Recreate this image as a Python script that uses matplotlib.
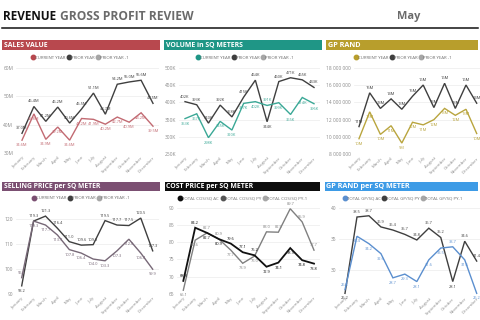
import matplotlib
matplotlib.use("Agg")
import matplotlib.pyplot as plt
from matplotlib.patches import Rectangle
from matplotlib.lines import Line2D

plt.rcParams['font.family'] = ['Open Sans', 'DejaVu Sans']

# ---------------- data ----------------
months = ["January", "February", "March", "April", "May", "June", "July",
          "August", "September", "October", "November", "December"]

sales_cy = [34.6, 43.8, 34.9, 39.2, 34.6, 42.2, 41.9, 40.2, 42.7, 40.9, 44.2, 39.5]
sales_py = [37.0, 46.4, 41.2, 46.2, 40.6, 45.5, 51.1, 43.7, 54.2, 55.0, 55.6, 47.5]

volume_cy = [353, 367, 298, 345, 320, 397, 402, 391, 399, 365, 414, 396]
volume_py = [402, 393, 340, 392, 358, 415, 464, 344, 460, 471, 465, 443]

gp_cy = [9.8, 12.9, 10.3, 11.3, 9.3, 11.7, 11.4, 12.0, 13.3, 12.5, 13.2, 10.4]
gp_py = [11.2, 15.1, 13.3, 14.4, 13.2, 14.7, 16.0, 13.4, 16.2, 13.3, 16.0, 13.9]

sp_cy = [96.5, 119.3, 117.7, 113.7, 107.8, 106.4, 104.0, 103.3, 107.3, 112.0, 106.4, 99.9]
sp_py = [93.2, 119.3, 121.3, 116.4, 111.0, 109.6, 109.8, 119.5, 117.7, 117.5, 120.5, 107.3]

cos_ac = [68.8, 84.2, 82.7, 80.9, 79.6, 77.1, 76.2, 72.9, 74.1, 78.3, 74.8, 73.8]
cos_py = [66.1, 80.6, 82.7, 80.9, 77.7, 73.9, 76.0, 83.0, 82.9, 89.7, 85.9, 77.7]

gpsq_ac = [26.8, 35.4, 34.2, 32.6, 28.7, 29.3, 28.1, 31.6, 33.5, 33.7, 31.6, 26.2]
gpsq_py = [26.2, 38.5, 38.7, 36.9, 36.4, 35.7, 34.8, 36.7, 35.2, 28.1, 34.6, 31.4]

legend_std = ["CURRENT YEAR", "PRIOR YEAR", "PRIOR YEAR -1"]
legend_cos = ["TOTAL COS/SQ AC", "TOTAL COS/SQ PY", "TOTAL COS/SQ PY-1"]
legend_gpsq = ["TOTAL GP/SQ AC", "TOTAL GP/SQ PY", "TOTAL GP/SQ PY-1"]

# ---------------- figure ----------------
W, H = 480, 320
fig = plt.figure(figsize=(4.8, 3.2), dpi=100)
fig.patch.set_facecolor('white')
renderer = fig.canvas.get_renderer()


def fx(px):
    return px / W


def fy(py):
    return 1 - py / H


def fit(t, target):
    w = t.get_window_extent(renderer).width
    if w > 0:
        t.set_fontsize(t.get_fontsize() * target / w)


DARK = '#3f3f3f'
LIGHT = '#a6a6a6'
TICKC = '#8a8a8a'


def make_ax(x_jan, x_dec, y_lo, y_hi, py_lo, py_hi, yticks, yfmt, pad_r=0.5):
    unit = (x_dec - x_jan) / 11
    left = x_jan - 0.5 * unit
    right = x_dec + pad_r * unit
    ax = fig.add_axes([fx(left), fy(py_lo), (right - left) / W, (py_lo - py_hi) / H])
    ax.set_facecolor('none')
    ax.set_xlim(-0.5, 11 + pad_r)
    ax.set_ylim(y_lo, y_hi)
    for s in ax.spines.values():
        s.set_visible(False)
    ax.set_yticks(yticks)
    ax.set_yticklabels([yfmt(t) for t in yticks])
    ax.set_xticks(range(12))
    ax.set_xticklabels(months, rotation=45, ha='right', rotation_mode='anchor',
                       fontsize=3.2, color=TICKC)
    ax.tick_params(axis='both', length=0, pad=1.5)
    ax.tick_params(axis='y', labelsize=3.5, labelcolor=TICKC, pad=2)
    ax.grid(axis='y', color='#ebebeb', linewidth=0.5)
    ax.set_axisbelow(True)
    return ax


def plot_pair(ax, a_vals, a_color, a_lw, b_vals, b_color, b_lw, fmt):
    """Plot two series; at each month the higher value's label goes above,
    the lower one's below."""
    x = list(range(len(a_vals)))
    ax.plot(x, a_vals, color=a_color, linewidth=a_lw, clip_on=False,
            solid_joinstyle='miter')
    ax.plot(x, b_vals, color=b_color, linewidth=b_lw, clip_on=False,
            solid_joinstyle='miter')
    for i in x:
        a, b = a_vals[i], b_vals[i]
        for v, c, above in ((a, a_color, a >= b), (b, b_color, b > a)):
            ax.annotate(fmt(v), (i, v), xytext=(0, 2.2 if above else -2.2),
                        textcoords='offset points', ha='center',
                        va='bottom' if above else 'top', fontsize=2.9,
                        color=c, annotation_clip=False)


def header(x0, x1, y0, y1, color, text, text_w):
    fig.add_artist(Rectangle((fx(x0), fy(y1)), (x1 - x0) / W, (y1 - y0) / H,
                             transform=fig.transFigure, color=color, linewidth=0))
    t = fig.text(fx(x0 + 1.5), fy((y0 + y1) / 2 + 0.3), text, color='white',
                 fontsize=5.6, fontweight='bold', va='center', ha='left')
    fit(t, text_w)


def legend(cx, cy, colors, labels):
    handles = [Line2D([], [], marker='o', linestyle='', color=c, markersize=3.2)
               for c in colors]
    fig.legend(handles, labels, loc='center', bbox_to_anchor=(fx(cx), fy(cy)),
               ncol=3, frameon=False, fontsize=3.2, handlelength=0.6,
               handletextpad=0.15, columnspacing=0.5, borderaxespad=0,
               labelcolor='#707070')


# ---------------- title ----------------
t1 = fig.text(fx(3), fy(16.5), "REVENUE", fontsize=8, fontweight='bold',
              color='#111111', va='center', ha='left')
fit(t1, 54)
t2 = fig.text(fx(60), fy(16.5), "GROSS PROFIT REVIEW", fontsize=8, fontweight='bold',
              color='#6b6b6b', va='center', ha='left')
fit(t2, 133)
t3 = fig.text(fx(397), fy(16.5), "May", fontsize=7.5, fontweight='bold',
              color='#6b6b6b', va='center', ha='left')
fit(t3, 23)
fig.add_artist(Line2D([fx(2), fx(478)], [fy(27.7), fy(27.7)], color='#111111',
                      linewidth=1.1, transform=fig.transFigure))

# ---------------- panel 1: sales value ----------------
RED_H = '#b8484e'
RED_L = '#c26a72'
header(2, 160, 40, 49.5, RED_H, "SALES VALUE", 44)
legend(80, 58, [RED_H, DARK, LIGHT], legend_std)
ax1 = make_ax(22, 153, 30, 60, 153.3, 67.7, [30, 40, 50, 60], lambda t: f"{t}M")
plot_pair(ax1, sales_py, DARK, 1.0, sales_cy, RED_L, 1.0, lambda v: f"{v:.1f}M")

# ---------------- panel 2: volume ----------------
TEAL_H = '#1f9686'
TEAL_L = '#3aa896'
header(164, 322, 40, 49.5, TEAL_H, "VOLUME in SQ METERS", 77)
legend(245, 58, [TEAL_H, DARK, LIGHT], legend_std)
ax2 = make_ax(185, 314, 250, 500, 154.3, 67.7, [250, 300, 350, 400, 450, 500],
              lambda t: f"{t}K")
plot_pair(ax2, volume_py, DARK, 1.0, volume_cy, TEAL_L, 1.0, lambda v: f"{v:.0f}K")

# ---------------- panel 3: gp rand ----------------
GOLD_H = '#b89e2c'
GOLD_L = '#b9a53e'
header(326, 478, 40, 49.5, GOLD_H, "GP RAND", 33)
legend(403, 58, [GOLD_H, DARK, LIGHT], legend_std)
ax3 = make_ax(359, 476.7, 8, 18, 154.3, 67.7, [8, 10, 12, 14, 16, 18],
              lambda t: f"{t*1000000:,.0f}".replace(",", " "), pad_r=0.3)
plot_pair(ax3, gp_py, DARK, 1.0, gp_cy, GOLD_L, 1.0, lambda v: f"{v:.0f}M")

# ---------------- panel 4: selling price ----------------
PURP_H = '#7b4f72'
PURP_L = '#776877'
header(2, 160, 182, 190.5, PURP_H, "SELLING PRICE per SQ METER", 97)
legend(81, 198, [PURP_H, DARK, LIGHT], legend_std)
ax4 = make_ax(21.7, 152.7, 90, 124, 293.8, 209.4, [90, 100, 110, 120],
              lambda t: f"{t}")
plot_pair(ax4, sp_py, DARK, 1.0, sp_cy, PURP_L, 1.0, lambda v: f"{v:.1f}")

# ---------------- panel 5: cost price ----------------
BLK_H = '#0d0d0d'
GRAY_L = '#808080'
header(165, 320, 182, 190.5, BLK_H, "COST PRICE per SQ METER", 88)
legend(243, 198, [BLK_H, '#555555', LIGHT], legend_cos)
ax5 = make_ax(183.3, 314, 65, 90, 294, 207.7, [65, 70, 75, 80, 85, 90],
              lambda t: f"{t}")
plot_pair(ax5, cos_py, GRAY_L, 1.0, cos_ac, '#111111', 1.3, lambda v: f"{v:.1f}")

# ---------------- panel 6: gp per sq meter ----------------
BLUE_H = '#3d9be6'
BLUE_L = '#5b8fcf'
header(325, 478, 182, 190.5, BLUE_H, "GP RAND per SQ METER", 85)
legend(403, 198, [BLUE_L, DARK, LIGHT], legend_gpsq)
ax6 = make_ax(345, 476.7, 26, 40, 294.6, 207.7, [30, 35, 40],
              lambda t: f"{t}", pad_r=0.3)
plot_pair(ax6, gpsq_py, DARK, 1.0, gpsq_ac, BLUE_L, 1.0, lambda v: f"{v:.1f}")

fig.savefig("out.png", dpi=100, facecolor='white')
